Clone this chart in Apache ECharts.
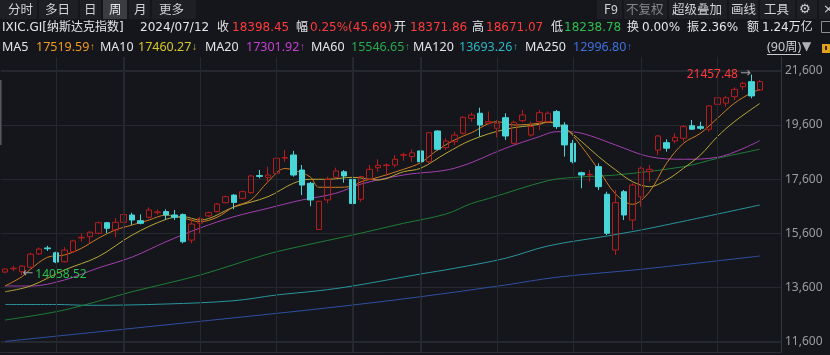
<!DOCTYPE html>
<html><head><meta charset="utf-8">
<script src="https://cdn.jsdelivr.net/npm/echarts@6/dist/echarts.min.js"></script>
<style>html,body{margin:0;padding:0;background:#14161b;overflow:hidden}#c{width:830px;height:355px}</style>
</head><body><div id="c"></div>
<script>
// ---- data ----
const firstWeek = Date.UTC(2023, 10, 24); // weekly candles (Fridays)
const weeks = [];
for (let i = 0; i < 90; i++) {
  const d = new Date(firstWeek + i * 7 * 86400000);
  weeks.push(d.getUTCFullYear() + '/' + String(d.getUTCMonth() + 1).padStart(2, '0') + '/' + String(d.getUTCDate()).padStart(2, '0'));
}
const padCats = ['p1', 'p2'];
// [open, close, low, high]
const ohlc = [
[14170,14280,14130,14310],[14290,14310,14200,14400],[14180,14390,14058.52,14430],[14350,14830,14320,14880],[14840,15020,14800,15080],
[15060,15030,14950,15140],[14880,14540,14500,14920],[14550,14980,14520,15090],[14920,15320,14880,15360],[15430,15450,15290,15600],
[15475,15640,15230,15680],[15600,15990,15560,16030],[15990,15785,15600,16020],[15720,16005,15450,16160],[16005,16290,15970,16330],
[16275,16090,15905,16360],[16065,15970,15930,16300],[16190,16460,16150,16560],[16360,16390,16290,16480],[16400,16275,16090,16485],
[16275,16190,16090,16460],[16290,15290,15230,16330],[15350,15940,15230,16150],[15970,16150,15600,16200],[16240,16360,16200,16400],
[16400,16680,16370,16720],[16730,16950,16700,16990],[17010,16740,16485,17040],[16890,17135,16850,17180],[17100,17715,17060,17760],
[17730,17700,17630,17935],[17665,17750,17445,18055],[17814,18367,17780,18400],[18371.86,18398.45,18238.78,18671.07],[18490,17750,17690,18640],
[17935,17380,17010,18120],[17445,16830,16600,17500],[15740,16780,15720,16800],[16830,17590,16710,17690],[17665,17900,17620,18020],
[17870,17715,17470,17930],[17590,16700,16650,17620],[16855,17690,16765,17720],[17590,17960,17560,18120],[18020,18110,17875,18330],
[18100,18120,17715,18180],[18120,18330,18030,18490],[18480,18500,18280,18575],[18430,18570,18240,18700],[18640,18240,18180,18740],
[18240,19310,18200,19340],[19375,18700,18650,19400],[18760,19005,18674,19105],[18980,19225,18860,19350],[19290,19880,19250,19920],
[19840,19965,19718,20050],[20030,19595,19165,20235],[19660,19720,19620,20090],[19475,19660,19140,19780],[19865,19190,19043,20028],
[18920,19695,18880,19755],[19755,19965,19700,20150],[19225,19535,19165,19718],[19720,20050,19412,20150],[19720,20030,19650,20100],
[20090,19535,19450,20150],[19595,18860,18430,19700],[18920,18240,18183,19043],[17835,17750,17260,17875],[17750,17770,17504,17936],
[18060,17320,17198,18183],[17040,15600,15537,17135],[14985,16730,14800,17198],[17135,16275,16091,17198],[16090,17380,15722,17445],
[16950,18000,16581,18058],[17875,17960,17504,18120],[18670,19190,18490,19227],[18945,18740,18611,19068],[19005,19140,18920,19290],
[19105,19535,18980,19596],[19570,19440,19412,19780],[19535,19475,19412,19718],[19440,20300,19349,20334],[20360,20600,20150,20666],
[20400,20600,20270,20666],[20640,20910,20520,20986],[21010,21135,20888,21195],[21195,20670,20582,21457.48],[20885,21195,20850,21250]
];
// moving-average lines: [week index, value]
const ma5Pts = [[0,13655],[2,13999],[3,14272],[5,14714],[7,14799],[9,15046],[11,15415],[13,15722],[15,15906],[17,16091],[19,16275],[21,16160],[23,16028],[25,16190],[27,16581],[29,16829],[31,17500],[33,17990],[34,17936],[36,17680],[37,17300],[39,17297],[41,17345],[42,17504],[44,17666],[47,17962],[49,18205],[51,18674],[53,19043],[55,19312],[58,19718],[60,19596],[63,19659],[64,19718],[66,19500],[68,18796],[70,17936],[72,17050],[74,16670],[76,17135],[78,18183],[80,18921],[82,19290],[84,19843],[86,20397],[88,20780],[89,20900]];
const ma10Pts = [[0,13445],[3,13655],[7,14246],[11,14737],[15,15537],[19,16116],[21,16212],[23,16091],[27,16570],[31,16950],[34,17445],[36,17593],[38,17593],[41,17666],[44,17567],[47,17873],[49,17999],[52,18552],[55,19043],[59,19438],[63,19620],[64,19700],[66,19474],[68,18980],[70,18427],[72,17936],[74,17504],[76,17320],[78,17567],[80,17999],[82,18489],[84,19165],[86,19718],[89,20390]];
const ma20Pts = [[0,13655],[3,13655],[7,13877],[11,14320],[15,14725],[19,15290],[23,15795],[27,16212],[31,16522],[33,16681],[35,16829],[39,17076],[42,17419],[47,17751],[53,17999],[59,18737],[63,19165],[65,19349],[67,19340],[69,19200],[72,18858],[76,18427],[80,18331],[84,18404],[89,19017]];
const ma60Pts = [[0,12401],[7,12770],[15,13445],[23,14061],[31,14836],[35,15131],[41,15537],[47,15969],[52,16312],[55,16700],[57,16880],[64,17541],[67,17660],[72,17751],[80,18058],[84,18367],[89,18700]];
const ma120Pts = [[0,12973],[6,12973],[10,12943],[19,12991],[27,13113],[32,13323],[37,13482],[41,13655],[49,14098],[53,14308],[59,14677],[64,15131],[71,15500],[76,15784],[89,16644]];
const ma250Pts = [[0,11610],[31,12611],[41,12954],[49,13260],[59,13692],[65,13976],[75,14272],[89,14762]];
const yTicks = [11600, 13600, 15600, 17600, 19600, 21600];
const gridWeekIdx = [6, 14, 23, 32, 41, 49, 58, 67, 75, 84];

function toSeries(pts) { const a = new Array(90).fill(null); pts.forEach(p => { a[p[0]] = p[1]; }); return a; }

const BG = '#14161b';
const RED = '#ff3b3b', GREEN = '#2bbf4e';
const F2 = "12px 'DejaVu Sans','Noto Sans CJK SC',sans-serif";
const F3 = "12.5px 'Noto Sans','Noto Sans CJK SC','DejaVu Sans',sans-serif";
const F1 = "12.5px 'Noto Sans CJK SC','Noto Sans',sans-serif";

function txt(s, x, y, fill, font) { return {type:'text', silent:true, z:100, style:{text:s, x:x, y:y, fill:fill, font:font, verticalAlign:'middle'}}; }
function maTxt(val, arrow, x, color) {
  return {type:'text', silent:true, z:100, style:{text:'{n|' + val + '}{a|' + arrow + '}', x:x, y:47, verticalAlign:'middle',
    rich:{n:{fill:color, font:F3}, a:{fill:color, font:"10px 'Liberation Sans Narrow','Liberation Sans',sans-serif", padding:[0,0,0,0.5]}}}};
}
function box(x, y, w, h, fill) { return {type:'rect', silent:true, z:90, shape:{x:x, y:y, width:w, height:h}, style:{fill:fill}}; }

const graphics = [];
// tab bar
[[0,37],[39,78],[80,101],[129,150],[152,196]].forEach(b => graphics.push(box(b[0],0,b[1]-b[0],19,'#1d1f24')));
graphics.push(box(103,0,24,19,'#3a3c42'));
[[597,622],[624,667],[669,727],[729,758],[760,795],[797,817],[819,830]].forEach(b => graphics.push(box(b[0],0,b[1]-b[0],19,'#1d1f24')));
const tabC = '#d2d3d6';
graphics.push(txt('分时',8,9.5,tabC,F1), txt('多日',45,9.5,tabC,F1), txt('日',84,9.5,tabC,F1), txt('周',109,9.5,'#e8e8e8',F1), txt('月',134,9.5,tabC,F1), txt('更多',159,9.5,tabC,F1));
graphics.push(txt('F9',604,9.5,tabC,F1), txt('不复权',626,9.5,'#85878c',F1), txt('超级叠加',672,9.5,tabC,F1), txt('画线',731,9.5,tabC,F1), txt('工具',764,9.5,tabC,F1), txt('⚙',799,9.5,tabC,"13px 'DejaVu Sans'"), txt('×',823,9.5,tabC,"13px 'DejaVu Sans'"));
// row 2
const W = '#e4e5e7';
graphics.push(
  txt('IXIC.GI[纳斯达克指数]',2,27.5,W,F2), txt('2024/07/12',140,27.5,W,F2),
  txt('收',217,27.5,W,F2), txt('18398.45',232,27.5,RED,F2),
  txt('幅',296,27.5,W,F2), txt('0.25%(45.69)',310,27.5,RED,F2),
  txt('开',394,27.5,W,F2), txt('18371.86',410,27.5,RED,F2),
  txt('高',472,27.5,W,F2), txt('18671.07',486,27.5,RED,F2),
  txt('低',551,27.5,W,F2), txt('18238.78',564,27.5,GREEN,F2),
  txt('换',627,27.5,W,F2), txt('0.00%',642,27.5,W,F2),
  txt('振',687,27.5,W,F2), txt('2.36%',700,27.5,W,F2),
  txt('额',747,27.5,W,F2), txt('1.24万亿',762,27.5,W,F2)
);
graphics.push({type:'rect', silent:true, z:95, shape:{x:821.5,y:21.5,width:10,height:11}, style:{fill:'none', stroke:'#8c8e93', lineWidth:1}});
// row 3
graphics.push(
  txt('MA5',2,47,W,F3), maTxt('17519.59','↑',36,'#f09a22'),
  txt('MA10',100,47,W,F3), maTxt('17460.27','↓',138,'#d8c62a'),
  txt('MA20',205,47,W,F3), maTxt('17301.92','↑',246,'#c63fd2'),
  txt('MA60',311,47,W,F3), maTxt('15546.65','↑',351,'#2aa94d'),
  txt('MA120',413,47,W,F3), maTxt('13693.26','↑',459,'#2bb7c4'),
  txt('MA250',525,47,W,F3), maTxt('12996.80','↑',573,'#4170e0'),
  txt('(90周)',767,47,'#c8c9cc',F3), txt('▼',802,47,'#b0b2b6',"12px 'DejaVu Sans'")
);
graphics.push(box(767,54,34,1,'#c8c9cc'));
graphics.push(box(822,44,8,9,'#e0a21c'), box(825,46,2,4,'#3a2a08'));
graphics.push(box(0,80,1.5,65,'#55585f'));

function maLine(name, pts, color, extra) {
  return Object.assign({name:name, type:'line', data:toSeries(pts), connectNulls:true, smooth:0.35, showSymbol:false, symbol:'none',
    lineStyle:{color:color, width:1}, silent:true, z:3}, extra || {});
}

const GRIDC = '#25282e';
const GRID = {left: 0.77, right: 49, top: 57, bottom: 3};
const vLines = {silent:true, symbol:['none','none'], label:{show:false}, animation:false,
  lineStyle:{color:GRIDC, type:'solid', width:1},
  data: gridWeekIdx.map(i => ({xAxis: i}))};

const chart = echarts.init(document.getElementById('c'), null, {renderer:'canvas'});
chart.setOption({
  backgroundColor: BG,
  animation: false,
  grid: GRID,
  xAxis: {type:'category', data: weeks.concat(padCats), boundaryGap:true,
    axisLine:{show:true, lineStyle:{color:'#2b2e34'}}, axisTick:{show:false}, axisLabel:{show:false}, splitLine:{show:false}},
  yAxis: {type:'value', position:'right', min:11220, max:22105, scale:true,
    axisLine:{show:true, lineStyle:{color:'#34373e'}}, axisTick:{show:false, customValues:yTicks},
    axisLabel:{customValues:yTicks, margin:4, color:'#9b9da2', fontSize:12, fontFamily:'Noto Sans'},
    splitLine:{show:true, lineStyle:{color:GRIDC, type:'solid', width:1}}},
  series: [
    maLine('MA250', ma250Pts, '#2f4fa3', {markLine: vLines, z:2}),
    maLine('MA120', ma120Pts, '#2a949d'),
    maLine('MA60', ma60Pts, '#1f7d37'),
    maLine('MA20', ma20Pts, '#a23fae'),
    maLine('MA10', ma10Pts, '#b8a735'),
    maLine('MA5', ma5Pts, '#cc7b22'),
    {type:'candlestick', data: ohlc, barWidth: 6, z: 4, silent:true,
      itemStyle:{color:'rgba(0,0,0,0)', color0:'#48d6d8', borderColor:'#b81d1d', borderColor0:'#48d6d8', borderWidth:1},
      markPoint:{silent:true, symbol:'circle', symbolSize:1, itemStyle:{color:'rgba(0,0,0,0)'},
        data:[
          {type:'max', valueDim:'highest', label:{show:true, position:'left', distance:0,
            formatter: p => '{v|' + p.value.toFixed(2) + '}{a|→}',
            rich:{v:{color:RED, fontSize:12, fontFamily:'Noto Sans'}, a:{color:'#9a9ca1', fontSize:13, fontFamily:'DejaVu Sans', padding:[0,0,2,2]}}}},
          {type:'min', valueDim:'lowest', label:{show:true, position:'right', distance:0,
            formatter: p => '{a|←}{v|' + p.value.toFixed(2) + '}',
            rich:{v:{color:GREEN, fontSize:12, fontFamily:'Noto Sans'}, a:{color:'#9a9ca1', fontSize:13, fontFamily:'DejaVu Sans', padding:[0,2,2,0]}}}}
        ]}
    }
  ]
});

// grid lines placed through the chart's own axis scales (thin filled rects)
const gx0 = GRID.left, gx1 = 830 - GRID.right, gy0 = GRID.top, gy1 = 355 - GRID.bottom;
const gridG = [];
gridWeekIdx.forEach(i => {
  const px = chart.convertToPixel({xAxisIndex:0}, i);
  if (isFinite(px)) gridG.push({type:'rect', silent:true, z:1, shape:{x:Math.round(px), y:gy0, width:1, height:gy1 - gy0}, style:{fill:GRIDC}});
});
yTicks.forEach(v => {
  const py = chart.convertToPixel({yAxisIndex:0}, v);
  if (isFinite(py)) gridG.push({type:'rect', silent:true, z:1, shape:{x:gx0, y:Math.round(py), width:gx1 - gx0, height:1}, style:{fill:GRIDC}});
});
chart.setOption({graphic: gridG.concat(graphics)});
</script></body></html>
